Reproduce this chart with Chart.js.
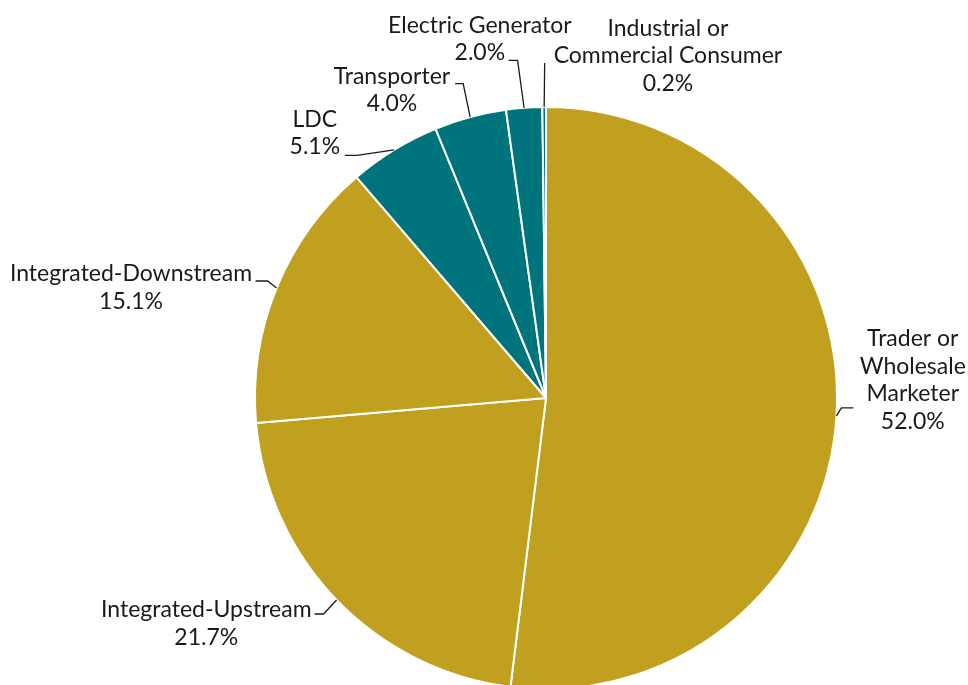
<!DOCTYPE html>
<html>
<head>
<meta charset="utf-8">
<title>Share by company type</title>
<script src="https://cdn.jsdelivr.net/npm/chart.js@4.4.1/dist/chart.umd.min.js"></script>
<style>
  html, body { margin: 0; padding: 0; background: #ffffff; overflow: hidden; }
  #wrap { position: relative; width: 968px; height: 685px; overflow: hidden; }
  #chart { position: absolute; left: 0; top: 0; }
</style>
</head>
<body>
<div id="wrap"><canvas id="chart" width="968" height="700"></canvas></div>
<script>
// Company categories (line breaks are where the label wraps)
const categories = [
  "Trader or\nWholesale\nMarketer",
  "Integrated-Upstream",
  "Integrated-Downstream",
  "LDC",
  "Transporter",
  "Electric Generator",
  "Industrial or\nCommercial Consumer"
];
// Share of total, percent
const shares = [52.0, 21.7, 15.1, 5.1, 4.0, 2.0, 0.2];
// Slice fill group: integrated/trading vs. regulated/end use
const sliceGroups = ["gold", "gold", "gold", "teal", "teal", "teal", "teal"];

const palette = { gold: "#C2A01F", teal: "#00747D" };

// Callout layout per slice: leader elbow offset from the arc edge, horizontal
// run, side the text sits on, which text line the leader attaches to,
// gap between leader end and text, and baseline shift of that line.
const callouts = [
  { dx: 5,   dy: -8,   run: 12,  side: "right", attach: 2, gap: 13, by: -6.5 },
  { dx: -13, dy: 14,   run: -9,  side: "left",  attach: 0, gap: 3,  by: 3 },
  { dx: -9,  dy: -7,   run: -12, side: "left",  attach: 0, gap: 3.5, by: 0 },
  { dx: -37, dy: 5.5,  run: -12, side: "left",  attach: 1, gap: 5,  by: -1 },
  { dx: -7,  dy: -33.5, run: -8, side: "left",  attach: 0, gap: 5,  by: 0 },
  { dx: -6.5, dy: -47.5, run: -9, side: "left", attach: 1, gap: 3.5, by: 0 },
  { dx: 0.5, dy: -44,  run: 0,   side: "right", attach: 1, gap: 9,  by: 0 }
];

const FONT = '23px Lato, "Open Sans", sans-serif';
const LINE_H = 27.5;
const TEXT_COLOR = "#1a1a1a";

const calloutPlugin = {
  id: "callouts",
  afterDatasetsDraw(chart) {
    const ctx = chart.ctx;
    const meta = chart.getDatasetMeta(0);
    ctx.save();
    ctx.font = FONT;
    ctx.fillStyle = TEXT_COLOR;
    ctx.strokeStyle = "#1a1a1a";
    ctx.lineWidth = 1.3;
    ctx.textBaseline = "alphabetic";
    ctx.textAlign = "center";
    meta.data.forEach((arc, i) => {
      const c = callouts[i];
      const mid = (arc.startAngle + arc.endAngle) / 2;
      const r = arc.outerRadius;
      const ex = arc.x + Math.cos(mid) * r;
      const ey = arc.y + Math.sin(mid) * r;
      const bx = ex + c.dx, by = ey + c.dy;
      const fx = bx + c.run, fy = by;
      ctx.beginPath();
      ctx.moveTo(ex, ey);
      ctx.lineTo(bx, by);
      if (c.run !== 0) ctx.lineTo(fx, fy);
      ctx.stroke();

      const lines = categories[i].split("\n").concat(shares[i].toFixed(1) + "%");
      const w = ctx.measureText(lines[c.attach]).width;
      const cx = c.side === "left" ? fx - c.gap - w / 2 : fx + c.gap + w / 2;
      const baseAttach = fy + c.by;
      lines.forEach((t, k) => {
        ctx.fillText(t, cx, baseAttach + (k - c.attach) * LINE_H);
      });
    });
    ctx.restore();
  }
};

new Chart(document.getElementById("chart"), {
  type: "pie",
  data: {
    labels: categories.map(c => c.replace(/\n/g, " ")),
    datasets: [{
      data: shares,
      backgroundColor: sliceGroups.map(g => palette[g]),
      borderColor: "#ffffff",
      borderWidth: 2
    }]
  },
  options: {
    responsive: false,
    animation: false,
    radius: 291,
    layout: { padding: { top: 107, bottom: 11, left: 124, right: 0 } },
    plugins: {
      legend: { display: false },
      tooltip: { enabled: false }
    }
  },
  plugins: [calloutPlugin]
});
</script>
</body>
</html>
